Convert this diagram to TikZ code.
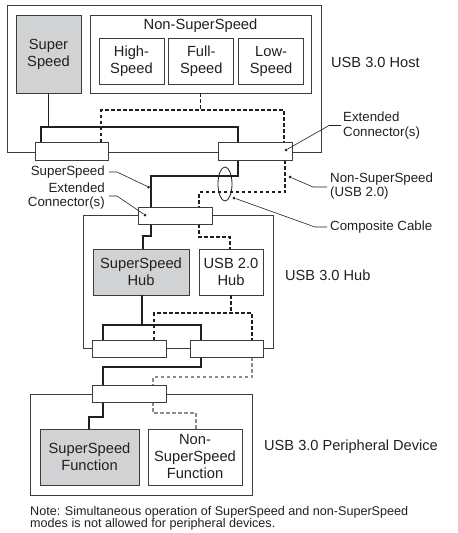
\documentclass[tikz,border=0pt]{standalone}
\usepackage{fontspec}
\setmainfont{Liberation Sans}
\usetikzlibrary{shapes.geometric, arrows, positioning, calc}
\definecolor{inchiostro}{HTML}{231F20}
\definecolor{grigiobox}{HTML}{D1D2D4}
\definecolor{bordo}{HTML}{3C3C3C}
\definecolor{grigiolinea}{HTML}{8C8C8C}
\tikzstyle{wrap} = [rectangle, draw=bordo, line width=0.8pt, inner sep=0pt]
\tikzstyle{box} = [rectangle, draw=bordo, line width=0.8pt, fill=white, align=center, text=inchiostro, font=\fontsize{14.7}{17}\selectfont, inner sep=0pt]
\tikzstyle{ssbox} = [box, fill=grigiobox]
\tikzstyle{conn} = [rectangle, draw=bordo, line width=0.8pt, fill=white, minimum width=74pt, minimum height=17pt, inner sep=0pt]
\tikzstyle{title} = [text=inchiostro, font=\fontsize{14.6}{17}\selectfont, anchor=west, inner sep=0pt]
\tikzstyle{lbl} = [text=inchiostro, font=\fontsize{13.3}{14.5}\selectfont, inner sep=0pt]
\tikzstyle{ssline} = [line width=1.6pt, draw=inchiostro]
\tikzstyle{nssline} = [line width=1.1pt, draw=inchiostro, dash pattern=on 3.5pt off 2.5pt]
\tikzstyle{nssgray} = [nssline, draw=grigiolinea]
\tikzstyle{lead} = [line width=0.6pt, draw=inchiostro]
\tikzstyle{dot} = [circle, fill=inchiostro, inner sep=0pt, minimum size=3pt]

\begin{document}
\begin{tikzpicture}[x=1pt, y=-1pt]
\useasboundingbox (0,0) rectangle (458,533);

% Host
\node (host) [wrap, minimum width=314pt, minimum height=147pt] at (164,78.5) {};
\node (ss) [ssbox, minimum width=65pt, minimum height=78pt] at (48.5,54) {Super\\Speed};
\node (nss) [box, minimum width=221pt, minimum height=78pt] at (200.5,54) {};
\node (nsstitle) [box, draw=none, fill=none] at (200.5,26) {Non-SuperSpeed};
\node (hs) [box, minimum width=65pt, minimum height=46pt] at (131.5,61) {High-\\Speed};
\node (fs) [box, minimum width=65pt, minimum height=46pt, right=4pt of hs] {Full-\\Speed};
\node (ls) [box, minimum width=65pt, minimum height=46pt, right=4pt of fs] {Low-\\Speed};
\node (hosttitle) [title] at (331,62) {USB 3.0 Host};

% Hub
\node (hub) [wrap, minimum width=190pt, minimum height=133pt] at (178,281.5) {};
\node (sshub) [ssbox, minimum width=96pt, minimum height=46pt] at (141,272) {SuperSpeed\\Hub};
\node (u2hub) [box, minimum width=64pt, minimum height=46pt] at (231,272) {USB 2.0\\Hub};
\node (hubtitle) [title] at (285,275) {USB 3.0 Hub};

% Dispositivo periferico
\node (dev) [wrap, minimum width=222pt, minimum height=101pt] at (141,444.5) {};
\node (ssfn) [ssbox, minimum width=99pt, minimum height=56pt] at (89.5,457) {SuperSpeed\\Function};
\node (nssfn) [box, minimum width=94pt, minimum height=56pt] at (195,457) {Non-\\SuperSpeed\\Function};
\node (devtitle) [title] at (264,447) {USB 3.0 Peripheral Device};

% Linee interne e cavi
\draw [ssline] (ss.south) -- (ss.south |- 0,127);
\draw [nssline] (nss.south) -- (nss.south |- 0,110);
\draw [ssline] (41,142) |- (238,127) -- (238,142);
\draw [nssline] (101,142) |- (284,110) -- (284,142);
\draw [ssline] (238,160) |- (151,176) -- (151,207);
\draw [nssline] (285,160) |- (199,192) -- (199,207);
\draw [ssline] (151,224) |- (143,236) -- (sshub.north -| 143,0);
\draw [nssline] (199,224) |- (230,237) -- (u2hub.north -| 230,0);
\draw [line width=1.1pt, inchiostro] (sshub.south -| 142,0) -- (142,325);
\draw [nssline] (u2hub.south -| 231,0) -- (231,313);
\draw [ssline] (103,340) |- (201,325) -- (201,340);
\draw [nssline] (154,340) |- (252,313) -- (252,340);
\draw [ssline] (201,357) |- (103,367) -- (103,385);
\draw [nssgray] (252,357) |- (153,377) -- (153,385);
\draw [ssline] (103,402) |- (89,417) -- (ssfn.north -| 89,0);
\draw [nssgray] (153,402) |- (196,413) -- (nssfn.north -| 196,0);

% Connettori
\node (hcl) [conn, minimum width=73pt, minimum height=18pt] at (71.5,151) {};
\node (hcr) [conn, minimum height=18pt] at (255,151) {};
\node (hubup) [conn] at (175,215.5) {};
\node (hubl) [conn] at (129,348.5) {};
\node (hubr) [conn, minimum width=73pt] at (226.5,348.5) {};
\node (devc) [conn] at (129,393.5) {};

% Cavo composito
\node (cable) [ellipse, draw=inchiostro, line width=0.8pt, minimum width=14pt, minimum height=34pt, inner sep=0pt] at (225,184) {};

% Etichette con richiami
\node (dext) [dot] at (286,150) {};
\node (dss) [dot] at (148.5,187) {};
\node (dextl) [dot] at (145,215) {};
\node (dnss) [dot] at (290,177) {};
\node (dcable) [dot] at (234,198) {};
\node (lblext) [lbl, anchor=west, align=left] at (343,125.5) {Extended\\Connector(s)};
\node (lblss) [lbl, anchor=east] at (105,172) {SuperSpeed};
\node (lblextl) [lbl, anchor=east, align=right] at (105,196) {Extended\\Connector(s)};
\node (lblnss) [lbl, anchor=west, align=left] at (330,186) {Non-SuperSpeed\\(USB 2.0)};
\node (lblcable) [lbl, anchor=west] at (330,227) {Composite Cable};
\draw [lead] ([xshift=-2pt]lblext.west) -- ++(-12,0) -- (dext);
\draw [lead] ([xshift=4pt]lblss.east) -- ++(8,0) -- (dss);
\draw [lead] ([xshift=4pt]lblextl.east) -- ++(8,0) -- (dextl);
\draw [lead] ([xshift=-3pt]lblnss.west |- 0,187) -- ++(-14,0) -- (dnss);
\draw [lead] ([xshift=-3pt]lblcable.west) -- ++(-12,0) -- (dcable);

% Nota
\node (note) [lbl, font=\fontsize{12.6}{12}\selectfont, anchor=north west, align=left] at (30,506) {Note: Simultaneous operation of SuperSpeed and non-SuperSpeed\\modes is not allowed for peripheral devices.};

\end{tikzpicture}
\end{document}
